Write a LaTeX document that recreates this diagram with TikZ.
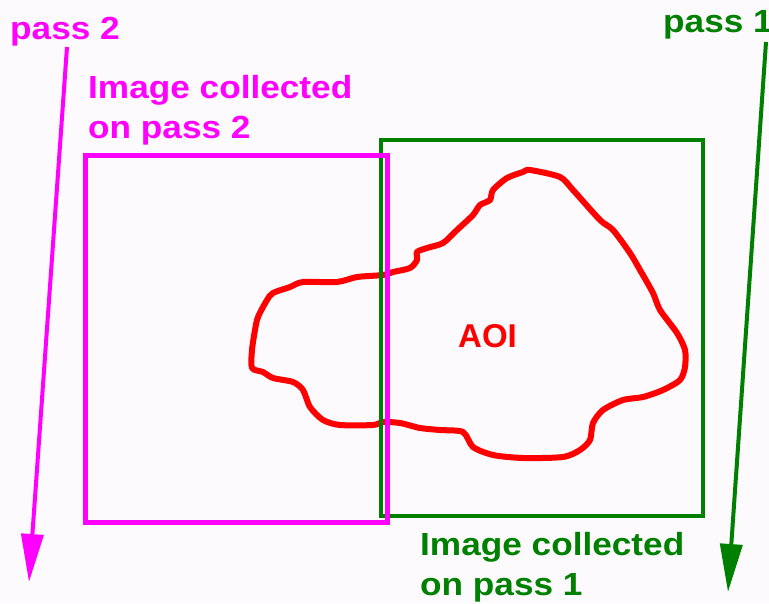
\documentclass[tikz,border=0pt]{standalone}
\usepackage{fontspec}
\newfontfamily\lblfont[FakeStretch=1.1]{Liberation Sans}
\newfontfamily\aoifont{Liberation Sans}
\usetikzlibrary{arrows.meta}
\definecolor{pmag}{RGB}{255,0,255}
\definecolor{pgreen}{RGB}{0,128,0}
\definecolor{pred}{RGB}{255,0,0}
\definecolor{paper}{RGB}{252,250,253}
\begin{document}
\begin{tikzpicture}[x=1pt,y=-1pt,
  lbl/.style={font=\lblfont\bfseries\fontsize{32}{40}\selectfont,
    inner sep=0pt, anchor=base west, align=left},
  passarrow/.style={line width=4pt,
    -{Triangle[width=22pt,length=48pt]}}]
  % canvas
  \fill[paper] (0,0) rectangle (769,603);
  \useasboundingbox (0,0) rectangle (769,603);

  % area of interest outline
  \draw[pred, line width=6pt, line join=round]
    plot[smooth cycle, tension=0.45] coordinates {
      (530,170) (560,177) (573,190) (600,220) (613,230) (630,253)
      (640,270) (653,293) (660,310) (677,333) (685,350) (685,367)
      (680,380) (663,390) (643,397) (623,400) (603,410) (593,423)
      (590,440) (580,450) (563,457) (523,458) (493,455) (473,447)
      (463,432) (440,430) (420,428) (400,423) (383,422) (373,425)
      (340,425) (323,420) (310,407) (303,390) (293,382) (273,378)
      (263,372) (252,368) (252,350) (255,330) (258,317) (267,300)
      (273,293) (290,287) (303,282) (337,282) (357,277) (383,275)
      (393,272) (410,268) (417,260) (417,252) (427,248) (443,243)
      (457,230) (473,215) (480,205) (490,200) (493,190) (507,178)
      (523,172)};
  \node[font=\aoifont\bfseries\fontsize{33}{40}\selectfont, text=pred,
    inner sep=0pt, anchor=base west] (aoi) at (458,347) {AOI};

  % image footprints
  \draw[pgreen, line width=4pt] (381,140) rectangle (703,516);
  \draw[pmag, line width=5pt] (85,155) rectangle (387,522);

  % pass directions
  \coordinate (p2top) at (67,47);
  \coordinate (p2end) at (29,582);
  \coordinate (p1top) at (766,42);
  \coordinate (p1end) at (728,592);
  \draw[pmag, passarrow] (p2top) -- (p2end);
  \draw[pgreen, passarrow] (p1top) -- (p1end);

  % labels (anchored on the baseline of the last line)
  \node[lbl, text=pmag] (pass2) at (10,39) {pass 2};
  \node[lbl, text=pgreen] (pass1) at (663,32) {pass 1};
  \node[lbl, text=pmag] (img2) at (88,138) {Image collected\\on pass 2};
  \node[lbl, text=pgreen] (img1) at (420,595) {Image collected\\on pass 1};
\end{tikzpicture}
\end{document}
